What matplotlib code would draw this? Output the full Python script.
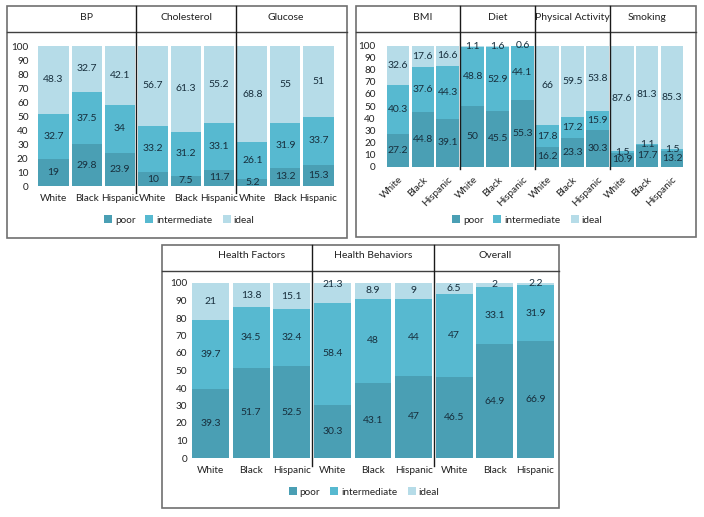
import matplotlib
matplotlib.use("Agg")
import matplotlib.pyplot as plt
from matplotlib.patches import Rectangle
from matplotlib.lines import Line2D
from matplotlib.transforms import blended_transform_factory

plt.rcParams['font.family'] = ['Lato', 'DejaVu Sans']

W, H = 704, 517

races = ["White", "Black", "Hispanic"]
levels = ["poor", "intermediate", "ideal"]
colors = ["#4a9fb4", "#57b9d0", "#b6dce8"]

# top left: health factors (biometric)
groups_a = ["BP", "Cholesterol", "Glucose"]
poor_a = [19, 29.8, 23.9, 10, 7.5, 11.7, 5.2, 13.2, 15.3]
inter_a = [32.7, 37.5, 34, 33.2, 31.2, 33.1, 26.1, 31.9, 33.7]
ideal_a = [48.3, 32.7, 42.1, 56.7, 61.3, 55.2, 68.8, 55, 51]

# top right: behaviours
groups_b = ["BMI", "Diet", "Physical Activity", "Smoking"]
poor_b = [27.2, 44.8, 39.1, 50, 45.5, 55.3, 16.2, 23.3, 30.3, 10.9, 17.7, 13.2]
inter_b = [40.3, 37.6, 44.3, 48.8, 52.9, 44.1, 17.8, 17.2, 15.9, 1.5, 1.1, 1.5]
ideal_b = [32.6, 17.6, 16.6, 1.1, 1.6, 0.6, 66, 59.5, 53.8, 87.6, 81.3, 85.3]

# bottom: summary
groups_c = ["Health Factors", "Health Behaviors", "Overall"]
poor_c = [39.3, 51.7, 52.5, 30.3, 43.1, 47, 46.5, 64.9, 66.9]
inter_c = [39.7, 34.5, 32.4, 58.4, 48, 44, 47, 33.1, 31.9]
ideal_c = [21, 13.8, 15.1, 21.3, 8.9, 9, 6.5, 2, 2.2]


def fx(px):
    return px / W


def fy(py):
    return 1 - py / H


def draw_panel(fig, groups, poor, inter, ideal, box, header_y, title_y, ax_px,
               sep_bottom, legend_pos, rotate=False, ypad=4, xpad=5):
    x0, y0, x1, y1 = box
    fig.add_artist(Rectangle((fx(x0), fy(y1)), fx(x1 - x0), (y1 - y0) / H,
                             transform=fig.transFigure, fill=False,
                             edgecolor="#707070", lw=1.2))
    fig.add_artist(Line2D([fx(x0), fx(x1)], [fy(header_y)] * 2,
                          transform=fig.transFigure, color="#404040", lw=1))

    left, right, bot, top = ax_px
    ax = fig.add_axes([fx(left), fy(bot), fx(right - left), (bot - top) / H])
    n = len(poor)
    x = list(range(n))
    bottom = [0] * n
    for vals, col, lab in zip([poor, inter, ideal], colors, levels):
        ax.bar(x, vals, bottom=bottom, width=0.91, color=col, label=lab)
        for xi, b, v in zip(x, bottom, vals):
            ax.text(xi, b + v / 2, f"{v:g}", ha="center", va="center",
                    fontsize=7.5, color="#172e3c")
        bottom = [b + v for b, v in zip(bottom, vals)]

    ax.set_xlim(-0.5, n - 0.5)
    ax.set_ylim(0, 100)
    ax.set_yticks(range(0, 101, 10))
    ax.set_xticks(x)
    if rotate:
        ax.set_xticklabels(races * len(groups), rotation=45, ha="right",
                           rotation_mode="anchor")
    else:
        ax.set_xticklabels(races * len(groups))
    ax.tick_params(axis="both", length=0, labelsize=7.2, colors="#222222")
    ax.tick_params(axis="y", pad=ypad)
    ax.tick_params(axis="x", pad=xpad)
    for s in ax.spines.values():
        s.set_visible(False)

    trans = blended_transform_factory(ax.transData, fig.transFigure)
    for k in range(1, len(groups)):
        xs = 3 * k - 0.5
        fig.add_artist(Line2D([xs, xs], [fy(y0), fy(sep_bottom)],
                              transform=trans, color="#1a1a1a", lw=1))
    for k, g in enumerate(groups):
        ax.text(3 * k + 1, fy(title_y), g, transform=trans, ha="center",
                va="center", fontsize=7.5, color="#222222")

    handles, labels = ax.get_legend_handles_labels()
    fig.legend(handles, labels, loc="center",
               bbox_to_anchor=(fx(legend_pos[0]), fy(legend_pos[1])),
               ncol=3, frameon=False, fontsize=7.2, handlelength=0.8,
               handleheight=0.8, columnspacing=1.0, handletextpad=0.3,
               labelcolor="#222222")
    return ax


fig = plt.figure(figsize=(7.04, 5.17), dpi=100)

draw_panel(fig, groups_a, poor_a, inter_a, ideal_a,
           box=(7, 6, 347, 238), header_y=32, title_y=17,
           ax_px=(36.9, 335.1, 186, 46), sep_bottom=193,
           legend_pos=(179, 220), ypad=6, xpad=6)

draw_panel(fig, groups_b, poor_b, inter_b, ideal_b,
           box=(356, 6, 696, 237), header_y=32, title_y=17,
           ax_px=(385.5, 684.5, 166.5, 45.5), sep_bottom=169,
           legend_pos=(527, 220), rotate=True, ypad=7, xpad=6)

draw_panel(fig, groups_c, poor_c, inter_c, ideal_c,
           box=(162, 245, 559, 508), header_y=271, title_y=256,
           ax_px=(190.2, 555.8, 458, 283), sep_bottom=466,
           legend_pos=(364, 492), ypad=2, xpad=6)

fig.savefig("out.png", dpi=100)
